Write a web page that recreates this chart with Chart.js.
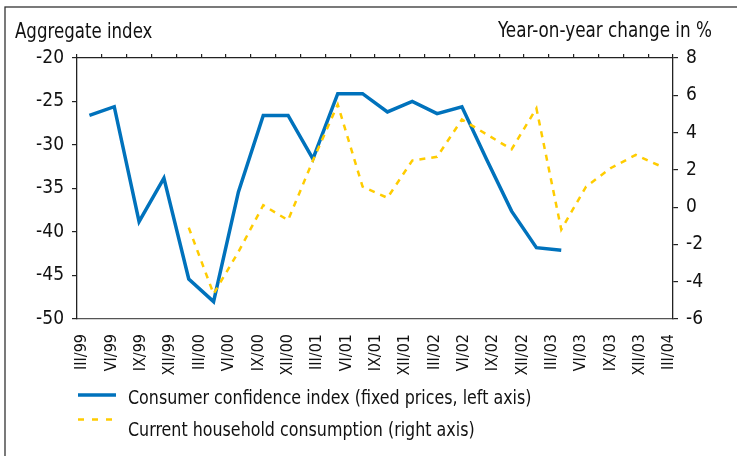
<!DOCTYPE html>
<html>
<head>
<meta charset="utf-8">
<script src="https://cdn.jsdelivr.net/npm/chart.js@4.4.1/dist/chart.umd.min.js"></script>
<style>
  html, body { margin: 0; padding: 0; background: #fff; }
  canvas { display: block; }
</style>
</head>
<body>
<canvas id="chart" width="737" height="456"></canvas>
<script>
// axis labels printed under the chart (quarter-end months)
const quarterLabels = [
  "III/99", "VI/99", "IX/99", "XII/99",
  "III/00", "VI/00", "IX/00", "XII/00",
  "III/01", "VI/01", "IX/01", "XII/01",
  "III/02", "VI/02", "IX/02", "XII/02",
  "III/03", "VI/03", "IX/03", "XII/03",
  "III/04",
];

// consumer confidence index, aggregate (left axis)
const confidence = [
  -26.6, -25.6, -38.8, -33.8, -45.4, -48.0, -35.4, -26.6,
  -26.6, -31.6, -24.1, -24.1, -26.2, -25.0, -26.4, -25.6,
  -31.7, -37.6, -41.8, -42.1, null, null, null, null,
];

// current household consumption, y/y % (right axis)
const consumption = [
  null, null, null, null, -1.1, -4.65, -2.4, 0.1,
  -0.7, 2.5, 5.5, 1.1, 0.5, 2.5, 2.7, 4.7,
  3.9, 3.1, 5.3, -1.2, 1.1, 2.1, 2.8, 2.2,
];

// the series sit on 24 evenly spaced slots across the plot
const slots = confidence.map((_, i) => i);

const leftTicks = { min: -50, max: -20, step: 5 };
const rightTicks = { min: -6, max: 8, step: 2 };

const BLUE = "#0072BC";
const YELLOW = "#FFCC00";
const AXIS = "#222";
const FONT = "'DejaVu Sans Condensed', sans-serif";

// narrow-looking text: draw condensed horizontally
function narrowText(c, text, x, y, align, sx) {
  c.save();
  c.translate(x, y);
  c.scale(sx, 1);
  c.textAlign = align;
  c.fillText(text, 0, 0);
  c.restore();
}

// frame, headings and legend drawn like the original print layout
const decor = {
  id: "decor",
  beforeDraw(chart) {
    const c = chart.ctx;
    c.save();
    c.fillStyle = "#fff";
    c.fillRect(0, 0, chart.width, chart.height);
    c.strokeStyle = "#333";
    c.lineWidth = 1.3;
    c.strokeRect(5, 7, chart.width + 10, chart.height + 10);
    c.restore();
  },
  afterDraw(chart) {
    const c = chart.ctx;
    c.save();
    c.fillStyle = "#111";
    c.font = "21px " + FONT;
    c.textBaseline = "alphabetic";
    narrowText(c, "Aggregate index", 15, 38, "left", 0.88);
    narrowText(c, "Year-on-year change in %", 712, 37, "right", 0.89);

    // legend
    c.font = "19px " + FONT;
    c.textBaseline = "middle";
    c.strokeStyle = BLUE;
    c.lineWidth = 3.5;
    c.beginPath();
    c.moveTo(78, 395);
    c.lineTo(116, 395);
    c.stroke();
    narrowText(c, chart.data.datasets[0].label, 128, 399, "left", 0.93);

    c.strokeStyle = YELLOW;
    c.lineWidth = 2.5;
    c.setLineDash([6, 8]);
    c.beginPath();
    c.moveTo(78, 419.5);
    c.lineTo(118, 419.5);
    c.stroke();
    c.setLineDash([]);
    narrowText(c, chart.data.datasets[1].label, 128, 431, "left", 0.93);
    c.restore();
  },
};

new Chart(document.getElementById("chart"), {
  type: "line",
  data: {
    labels: slots,
    datasets: [
      {
        label: "Consumer confidence index (fixed prices, left axis)",
        data: confidence,
        xAxisID: "x",
        yAxisID: "y",
        borderColor: BLUE,
        borderWidth: 3.5,
        pointRadius: 0,
        tension: 0,
        order: 2,
      },
      {
        label: "Current household consumption (right axis)",
        data: consumption,
        xAxisID: "x",
        yAxisID: "y1",
        borderColor: YELLOW,
        borderWidth: 2.5,
        borderDash: [6, 6],
        pointRadius: 0,
        tension: 0,
        order: 1,
      },
    ],
  },
  options: {
    responsive: false,
    animation: false,
    layout: { padding: 0 },
    plugins: {
      legend: { display: false },
      tooltip: { enabled: false },
    },
    scales: {
      x: {
        type: "category",
        position: "top",
        offset: true,
        grid: { offset: true, drawOnChartArea: false, color: AXIS, tickLength: 4, lineWidth: 1.2 },
        border: { color: AXIS, width: 1.3 },
        ticks: { display: false },
        afterFit: (s) => { s.height = 58; },
      },
      x2: {
        type: "linear",
        position: "bottom",
        min: -0.18,
        max: 20.13,
        bounds: "data",
        grid: { display: false, drawTicks: false },
        border: { color: "#555", width: 1.3 },
        afterBuildTicks: (s) => { s.ticks = quarterLabels.map((_, i) => ({ value: i })); },
        ticks: {
          autoSkip: false,
          minRotation: 90,
          maxRotation: 90,
          padding: 15,
          color: "#111",
          font: { family: FONT, size: 16 },
          callback: (v, i) => quarterLabels[i],
        },
        afterFit: (s) => { s.height = 137; },
      },
      y: {
        position: "left",
        min: leftTicks.min,
        max: leftTicks.max,
        grid: { drawOnChartArea: false, color: AXIS, tickLength: 5, lineWidth: 1.2 },
        border: { color: AXIS, width: 1.3 },
        ticks: {
          stepSize: leftTicks.step,
          padding: 8,
          color: "#111",
          font: { family: FONT, size: 19 },
        },
        afterFit: (s) => { s.width = 77; },
      },
      y1: {
        position: "right",
        min: rightTicks.min,
        max: rightTicks.max,
        grid: { drawOnChartArea: false, color: AXIS, tickLength: 5, lineWidth: 1.2 },
        border: { color: AXIS, width: 1.3 },
        ticks: {
          stepSize: rightTicks.step,
          padding: 8,
          color: "#111",
          font: { family: FONT, size: 19 },
        },
        afterFit: (s) => { s.width = 64; },
      },
    },
  },
  plugins: [decor],
});
</script>
</body>
</html>
